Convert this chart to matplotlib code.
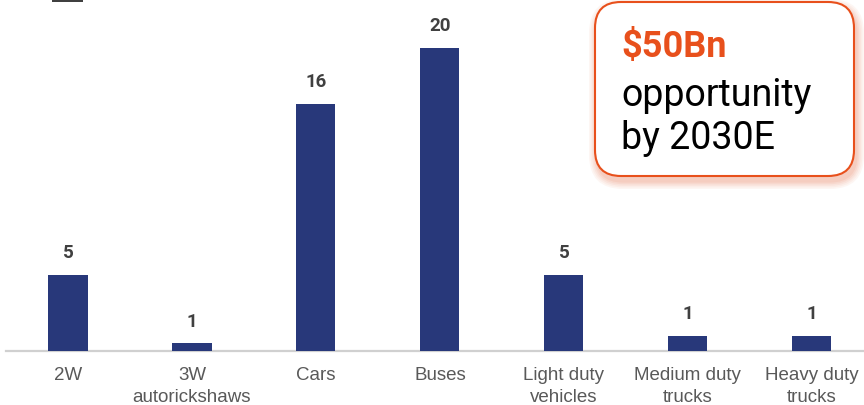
import matplotlib
matplotlib.use("Agg")
import matplotlib.pyplot as plt
from matplotlib.patches import FancyBboxPatch, Rectangle

categories = ["2W", "3W\nautorickshaws", "Cars", "Buses", "Light duty\nvehicles",
              "Medium duty\ntrucks", "Heavy duty\ntrucks"]
values = [5.0, 0.5, 16.3, 20.0, 5.0, 1.0, 1.0]
value_labels = ["5", "1", "16", "20", "5", "1", "1"]
callout_title = "$50Bn"
callout_body = ["opportunity", "by 2030E"]

W, H = 864, 406
fig = plt.figure(figsize=(W / 100, H / 100), dpi=100)

bar_color = "#28387A"
orange = "#E8501C"

# main axes: baseline at y=352px from top
base_px = 352
ax = fig.add_axes([6 / W, (H - base_px) / H, 1 - 6 / W, base_px / H])
x = list(range(len(categories)))
bars = ax.bar(x, values, width=0.315, color=bar_color, zorder=3)
ax.set_xlim(-0.5, 6.42)
ax.set_ylim(0, base_px / 15.13)
for xi, v, lab in zip(x, values, value_labels):
    ax.annotate(lab, (xi, v), xytext=(0, 16.5), textcoords="offset points",
                ha="center", va="center", fontsize=13.5, fontweight="bold",
                color="#404040", family="Roboto")
for s in ["top", "right", "left"]:
    ax.spines[s].set_visible(False)
ax.spines["bottom"].set_color("#D0D0D0")
ax.spines["bottom"].set_linewidth(1.6)
ax.set_yticks([])
ax.set_xticks(x)
ax.set_xticklabels(categories, fontsize=13.5, color="#595959",
                   family="Liberation Sans", linespacing=1.35)
ax.tick_params(axis="x", length=0, pad=11)
ax.patch.set_alpha(0)

# overlay for callout in pixel coordinates
ov = fig.add_axes([0, 0, 1, 1])
ov.set_xlim(0, W)
ov.set_ylim(H, 0)
ov.axis("off")
ov.patch.set_alpha(0)

# top-left fragment
ov.add_patch(Rectangle((52, 0), 31, 3, color="#404040", lw=0))

# shadow
for i, a in enumerate([0.05, 0.05, 0.06, 0.07, 0.08]):
    g = 8 - i * 1.6
    ov.add_patch(FancyBboxPatch((595 - g + 2, 3 - g + 5), 259 + 2 * g, 174 + 2 * g,
                                boxstyle="round,pad=0,rounding_size=%f" % (26 + g),
                                fc=orange, ec="none", alpha=a, zorder=1))
ov.add_patch(FancyBboxPatch((595, 3), 259, 174,
                            boxstyle="round,pad=0,rounding_size=26",
                            fc="white", ec=orange, lw=1.5, zorder=2))
ov.text(621, 47, callout_title.replace("$", r"\$"), fontsize=26, fontweight="bold",
        color=orange, family="Roboto", va="center", ha="left", zorder=3)
ov.text(621, 95, callout_body[0], fontsize=27, color="black",
        family="Roboto", va="center", ha="left", zorder=3)
ov.text(621, 139, callout_body[1], fontsize=27, color="black",
        family="Roboto", va="center", ha="left", zorder=3)

fig.savefig("out.png", dpi=100)
